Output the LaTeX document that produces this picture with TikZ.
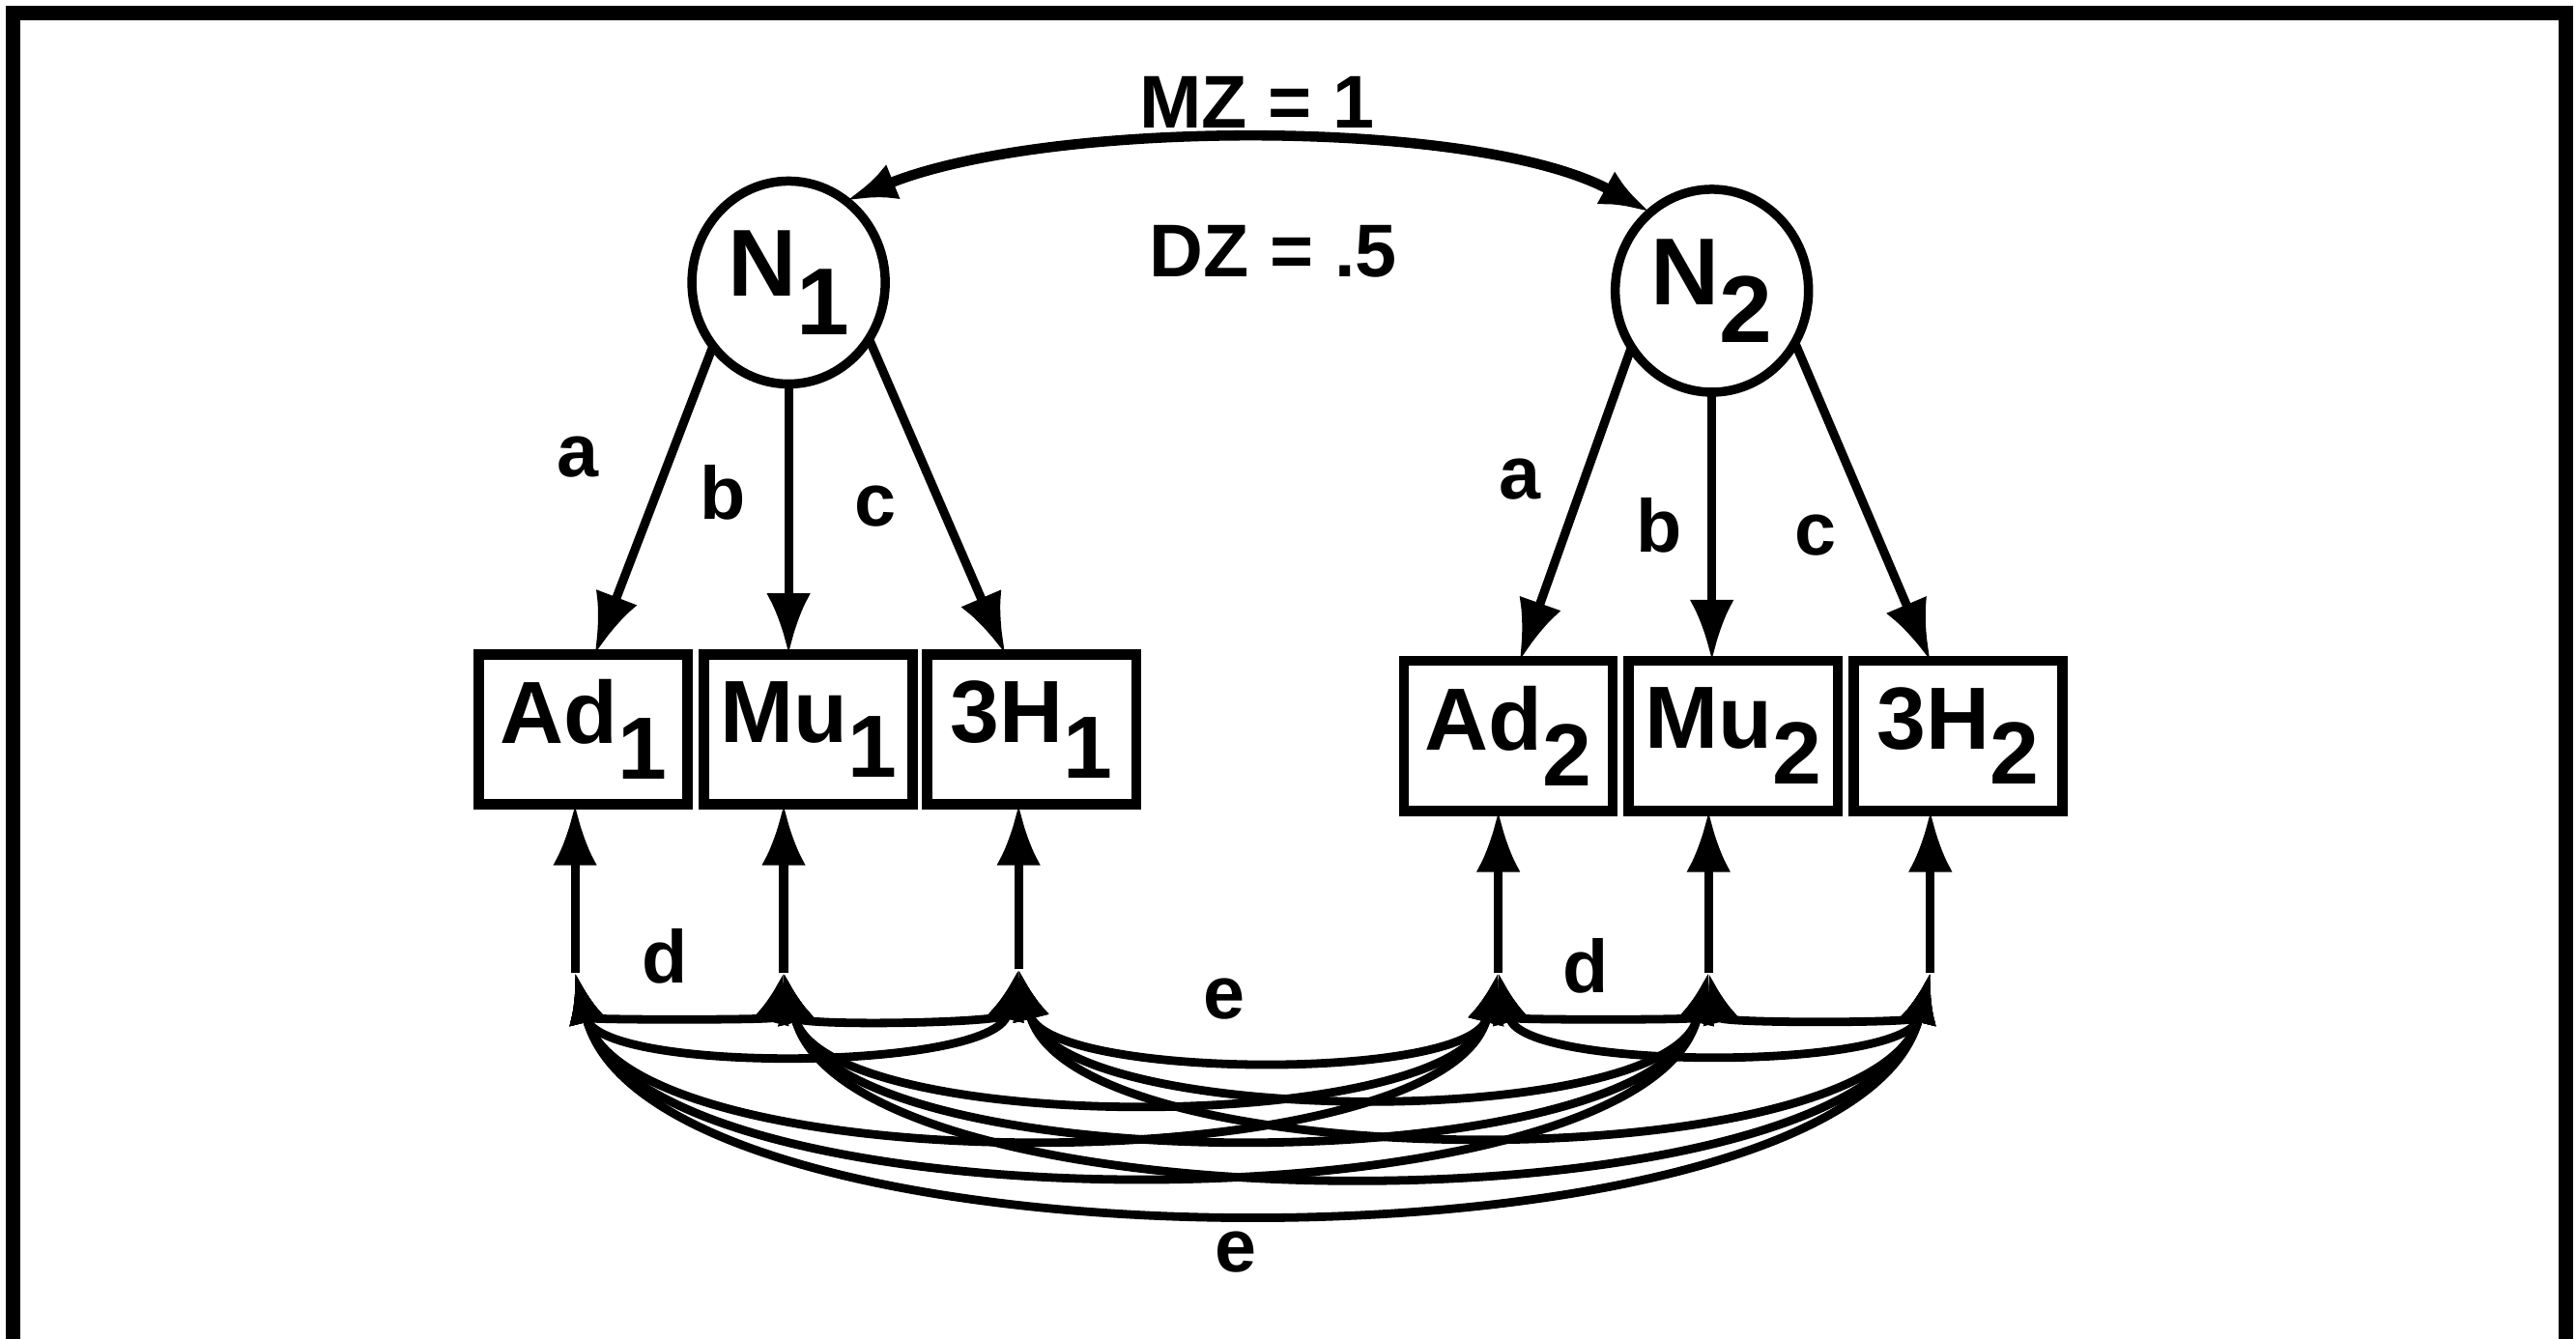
\documentclass[tikz,border=0pt]{standalone}
\usepackage{fontspec}
\setmainfont{Liberation Sans}
\usepackage{graphicx}
\usetikzlibrary{arrows.meta,calc,shapes.geometric}
\newcommand\lsub[1]{\raisebox{-0.4em}{#1}}
\begin{document}
\begin{tikzpicture}[x=0.017cm,y=-0.017cm,
  every node/.style={inner sep=0pt, outer sep=0pt},
  latent/.style={ellipse, draw, line width=2.7pt, minimum width=2.0cm, minimum height=2.1cm, font=\fontsize{28}{30}\selectfont\bfseries},
  obs/.style={rectangle, draw, line width=3pt, minimum width=2.16cm, minimum height=1.55cm, font=\fontsize{26}{30}\selectfont\bfseries},
  path/.style={line width=2.6pt, -{Latex[length=18pt,width=13pt]}},
  cov/.style={line width=2.5pt, {Latex[length=15pt,width=11pt]}-{Latex[length=15pt,width=11pt]}},
  lab/.style={font=\fontsize{22}{24}\selectfont\bfseries},
  frameline/.style={line width=4.3pt, line join=miter}]
\useasboundingbox (0,0) rectangle (1568,815);
\draw[frameline] (8,815) -- (8,8) -- (1562,8) -- (1562,815);

\node[latent] (N1) at (480,172) {N\lsub{1}};
\node[latent] (N2) at (1042,177) {N\lsub{2}};

\node[obs] (Ad1) at (355,444) {Ad\lsub{1}};
\node[obs] (Mu1) at (492,444) {Mu\lsub{1}};
\node[obs] (H1) at (628,444) {3H\lsub{1}};
\node[obs] (Ad2) at (918,448) {Ad\lsub{2}};
\node[obs] (Mu2) at (1055,448) {Mu\lsub{2}};
\node[obs] (H2) at (1192,448) {3H\lsub{2}};

\node[lab] (mz) at (765,62) {MZ = 1};
\node[lab] (dz) at (775,153) {DZ = .5};

\draw[cov, line width=3pt] (N1.55) .. controls (640,72) and (900,72) .. (N2.128);

\draw[path] (N1.220) -- ($(Ad1.north)+(7,0)$);
\draw[path] (N1.south) -- (N1.south |- Mu1.north);
\draw[path] (N1.325) -- ($(H1.north)+(-16,0)$);
\draw[path] (N2.215) -- ($(Ad2.north)+(7,0)$);
\draw[path] (N2.south) -- (N2.south |- Mu2.north);
\draw[path] (N2.328) -- ($(H2.north)+(-17,0)$);

\node[lab] (a1) at (352,278) {a};
\node[lab] (b1) at (440,300) {b};
\node[lab] (c1) at (533,308) {c};
\node[lab] (a2) at (925,292) {a};
\node[lab] (b2) at (1010,320) {b};
\node[lab] (c2) at (1105,326) {c};

\coordinate (r1) at (350,592);
\coordinate (r2) at (477,592);
\coordinate (r3) at (620,590);
\coordinate (r4) at (912,592);
\coordinate (r5) at (1040,592);
\coordinate (r6) at (1175,592);

\draw[path] (r1) -- (r1 |- Ad1.south);
\draw[path] (r2) -- (r2 |- Mu1.south);
\draw[path] (r3) -- (r3 |- H1.south);
\draw[path] (r4) -- (r4 |- Ad2.south);
\draw[path] (r5) -- (r5 |- Mu2.south);
\draw[path] (r6) -- (r6 |- H2.south);

\foreach \i/\j/\h in {r1/r2/29, r1/r3/62, r1/r4/129, r1/r5/159, r1/r6/190,
  r2/r3/33, r2/r4/100, r2/r5/129, r2/r6/160,
  r3/r4/67, r3/r5/97, r3/r6/128,
  r4/r5/29, r4/r6/60, r5/r6/31}
  \draw[cov] (\i) .. controls ($(\i)+(0.25*\h,\h)$) and ($(\j)+(-0.25*\h,\h)$) .. (\j);

\node[lab] (d1) at (405,582) {d};
\node[lab] (d2) at (965,588) {d};
\node[lab] (e1) at (745,608) {e};
\node[lab] (e2) at (752,762) {e};
\end{tikzpicture}
\end{document}
